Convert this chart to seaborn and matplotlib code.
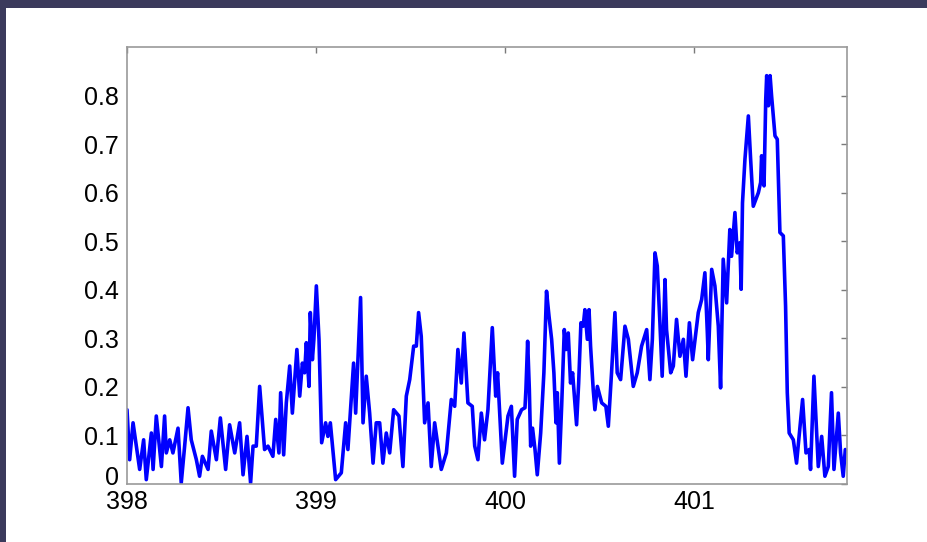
import matplotlib
matplotlib.use("Agg")
import matplotlib.pyplot as plt
import matplotlib.transforms as mtransforms
import seaborn as sns
import pandas as pd
from matplotlib.patches import Rectangle

# signal (x in nm, y intensity)
wavelength = [
    398.000, 398.014, 398.032, 398.067, 398.088, 398.102, 398.129, 398.138, 398.155, 398.182,
    398.199, 398.208, 398.226, 398.243, 398.270, 398.287, 398.305, 398.323, 398.340, 398.367,
    398.384, 398.399, 398.429, 398.446, 398.473, 398.494, 398.522, 398.543, 398.570, 398.596,
    398.614, 398.635, 398.654, 398.667, 398.684, 398.702, 398.728, 398.746, 398.772, 398.787,
    398.804, 398.813, 398.829, 398.843, 398.861, 398.875, 398.899, 398.914, 398.928, 398.940,
    398.949, 398.963, 398.970, 398.981, 398.989, 399.002, 399.016, 399.030, 399.051, 399.063,
    399.076, 399.104, 399.134, 399.157, 399.169, 399.199, 399.210, 399.236, 399.249, 399.266,
    399.284, 399.302, 399.319, 399.337, 399.354, 399.372, 399.390, 399.411, 399.439, 399.460,
    399.478, 399.496, 399.517, 399.531, 399.543, 399.557, 399.575, 399.593, 399.610, 399.628,
    399.663, 399.690, 399.716, 399.734, 399.751, 399.769, 399.783, 399.804, 399.827, 399.840,
    399.857, 399.875, 399.892, 399.910, 399.933, 399.951, 399.961, 399.986, 400.016, 400.034,
    400.051, 400.065, 400.088, 400.106, 400.111, 400.120, 400.129, 400.136, 400.146, 400.159,
    400.171, 400.189, 400.206, 400.220, 400.233, 400.247, 400.259, 400.270, 400.277, 400.288,
    400.300, 400.314, 400.323, 400.335, 400.347, 400.358, 400.379, 400.390, 400.402, 400.414,
    400.423, 400.436, 400.445, 400.453, 400.467, 400.476, 400.489, 400.512, 400.534, 400.547,
    400.564, 400.582, 400.594, 400.612, 400.635, 400.653, 400.679, 400.700, 400.723, 400.750,
    400.767, 400.780, 400.794, 400.806, 400.820, 400.832, 400.847, 400.855, 400.877, 400.891,
    400.908, 400.926, 400.944, 400.958, 400.976, 400.993, 401.023, 401.041, 401.058, 401.071,
    401.076, 401.094, 401.111, 401.129, 401.141, 401.155, 401.173, 401.190, 401.199, 401.217,
    401.229, 401.243, 401.250, 401.257, 401.270, 401.288, 401.300, 401.314, 401.341, 401.353,
    401.358, 401.371, 401.380, 401.385, 401.394, 401.403, 401.411, 401.429, 401.441, 401.455,
    401.473, 401.485, 401.494, 401.504, 401.526, 401.543, 401.575, 401.593, 401.610, 401.617,
    401.635, 401.658, 401.676, 401.693, 401.711, 401.728, 401.741, 401.764, 401.776, 401.790,
    401.801,
]
intensity = [
    0.153, 0.050, 0.126, 0.030, 0.091, 0.009, 0.105, 0.030, 0.140, 0.036,
    0.140, 0.064, 0.091, 0.064, 0.115, 0.002, 0.078, 0.157, 0.091, 0.050,
    0.016, 0.057, 0.030, 0.109, 0.050, 0.136, 0.030, 0.122, 0.064, 0.126,
    0.019, 0.098, 0.002, 0.078, 0.078, 0.201, 0.071, 0.078, 0.057, 0.133,
    0.064, 0.188, 0.060, 0.167, 0.243, 0.146, 0.277, 0.181, 0.249, 0.229,
    0.291, 0.201, 0.353, 0.256, 0.298, 0.408, 0.298, 0.085, 0.126, 0.098,
    0.126, 0.009, 0.023, 0.126, 0.071, 0.249, 0.146, 0.384, 0.126, 0.222,
    0.146, 0.043, 0.126, 0.126, 0.043, 0.105, 0.064, 0.153, 0.140, 0.036,
    0.181, 0.215, 0.284, 0.284, 0.353, 0.304, 0.126, 0.167, 0.036, 0.126,
    0.030, 0.064, 0.174, 0.160, 0.277, 0.208, 0.311, 0.167, 0.160, 0.078,
    0.050, 0.146, 0.091, 0.153, 0.322, 0.181, 0.229, 0.043, 0.140, 0.160,
    0.016, 0.133, 0.153, 0.157, 0.195, 0.294, 0.195, 0.078, 0.115, 0.071,
    0.019, 0.105, 0.229, 0.397, 0.346, 0.298, 0.229, 0.126, 0.188, 0.043,
    0.160, 0.318, 0.277, 0.311, 0.208, 0.229, 0.122, 0.208, 0.332, 0.325,
    0.359, 0.298, 0.359, 0.284, 0.195, 0.153, 0.201, 0.167, 0.160, 0.119,
    0.229, 0.353, 0.229, 0.215, 0.325, 0.298, 0.201, 0.229, 0.284, 0.318,
    0.215, 0.298, 0.476, 0.449, 0.332, 0.222, 0.421, 0.318, 0.229, 0.243,
    0.339, 0.263, 0.298, 0.222, 0.332, 0.256, 0.353, 0.380, 0.435, 0.311,
    0.256, 0.442, 0.408, 0.325, 0.198, 0.463, 0.373, 0.524, 0.469, 0.559,
    0.476, 0.497, 0.401, 0.579, 0.669, 0.758, 0.669, 0.572, 0.600, 0.621,
    0.676, 0.614, 0.792, 0.841, 0.779, 0.841, 0.799, 0.717, 0.710, 0.518,
    0.511, 0.366, 0.188, 0.105, 0.091, 0.043, 0.174, 0.064, 0.071, 0.030,
    0.222, 0.036, 0.098, 0.016, 0.036, 0.188, 0.030, 0.146, 0.064, 0.016,
    0.071,
]
x_ticks = [398, 399, 400, 401]
y_ticks = [0, 0.1, 0.2, 0.3, 0.4, 0.5, 0.6, 0.7, 0.8]
y_tick_labels = ["0", "0.1", "0.2", "0.3", "0.4", "0.5", "0.6", "0.7", "0.8"]

df = pd.DataFrame({"wavelength": wavelength, "intensity": intensity})

sns.set_theme(style="white")
plt.rcParams["font.family"] = ["Liberation Sans", "DejaVu Sans"]

fig = plt.figure(figsize=(9.28, 5.42), dpi=100)
fig.patch.set_facecolor("#3b3a5c")
# white slide area
fig.add_artist(Rectangle((6 / 928, 0), 1, 534 / 542, transform=fig.transFigure,
                         facecolor="white", edgecolor="none", zorder=0))

ax = fig.add_axes([127 / 928, 58 / 542, 720 / 928, 437 / 542])
ax.set_facecolor("white")

sns.lineplot(data=df, x="wavelength", y="intensity", ax=ax, color="#0000ff",
             linewidth=2.6, estimator=None, sort=False)

ax.set_xlim(398, 401.81)
ax.set_ylim(0, 0.9)
ax.set_xticks(x_ticks)
ax.set_xticklabels([str(t) for t in x_ticks])
ax.set_yticks(y_ticks)
ax.set_yticklabels(y_tick_labels)
ax.set_xlabel("")
ax.set_ylabel("")

for side in ["left", "right", "top", "bottom"]:
    ax.spines[side].set_visible(True)
    ax.spines[side].set_color("#9a9a9a")
    ax.spines[side].set_linewidth(1.2)

ax.tick_params(axis="both", direction="in", length=4.5, width=1, color="#7a7a7a",
               labelsize=18, labelcolor="black", top=True, right=True)
ax.tick_params(axis="y", pad=6)
ax.tick_params(axis="x", pad=4)

# lift the "0" label a little so it sits above "398", as in the original
zero_label = ax.get_yticklabels()[0]
zero_label.set_transform(zero_label.get_transform() +
                         mtransforms.ScaledTranslation(0, 6 / 72, fig.dpi_scale_trans))

fig.savefig("out.png", dpi=100, facecolor=fig.get_facecolor())
